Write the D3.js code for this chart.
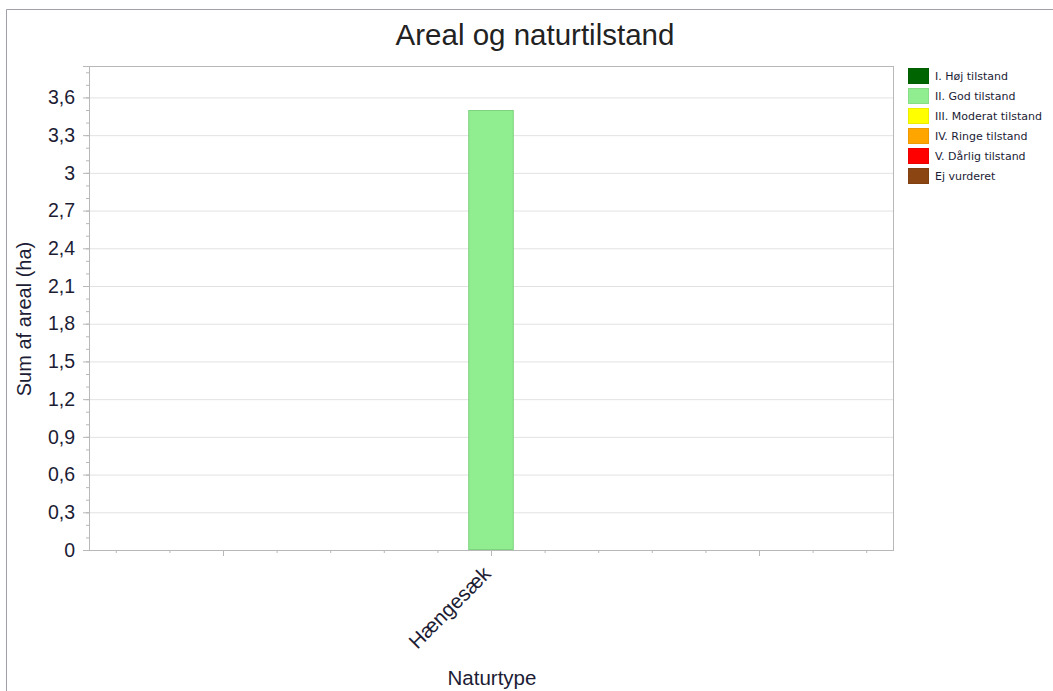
<!DOCTYPE html>
<html><head><meta charset="utf-8">
<script src="https://cdn.jsdelivr.net/npm/d3@7"></script>
<style>body{margin:0;background:#fff;} svg{display:block;}</style>
</head><body>
<script>
const categories = ["Hængesæk"];
const seriesNames = ["I. Høj tilstand","II. God tilstand","III. Moderat tilstand","IV. Ringe tilstand","V. Dårlig tilstand","Ej vurderet"];
const seriesColors = ["#006400","#90EE90","#FFFF00","#FFA500","#FF0000","#8B4513"];
const seriesValues = [[0],[3.5],[0],[0],[0],[0]];
const yTicks = [0,0.3,0.6,0.9,1.2,1.5,1.8,2.1,2.4,2.7,3,3.3,3.6];
const title = "Areal og naturtilstand";
const yLabel = "Sum af areal (ha)";
const xLabel = "Naturtype";

const W = 1053, H = 691;
const m = {left: 89, top: 66, right: 1053-893, bottom: 691-550};
const svg = d3.select("body").append("svg").attr("width", W).attr("height", H);
const FONT = "Liberation Sans, Arial, sans-serif";
const TXT = "#1c1c35";

// outer frame (top/left visible)
svg.append("path").attr("d", `M6.5,${H}V9.5H${W}`).attr("fill","none").attr("stroke","#a0a0a8").attr("stroke-width",1);

const pw = W - m.left - m.right, ph = H - m.top - m.bottom;
const g = svg.append("g").attr("transform", `translate(${m.left},${m.top})`);

const y = d3.scaleLinear().domain([0, 3.85]).range([ph, 0]);
const x0 = d3.scaleBand().domain(categories).range([0, pw]);
const xu = d3.scaleLinear().domain([0, 30]).range([0, pw]);

// gridlines
g.selectAll(".grid").data(yTicks.filter(d => d > 0)).join("line")
  .attr("x1", 0).attr("x2", pw).attr("y1", d => y(d) + 0.5).attr("y2", d => y(d) + 0.5)
  .attr("stroke", "#e2e2e2");

// bars
const nonZero = seriesNames.map((n,i)=>({n,i})).filter(s => seriesValues[s.i].some(v => v > 0));
const inner = d3.scaleBand().domain(nonZero.map(s => s.n)).range([0, xu(1.7)]);
categories.forEach((c, ci) => {
  const cx = x0(c) + x0.bandwidth()/2;
  g.selectAll(null).data(nonZero).join("rect")
    .attr("x", s => cx - xu(1.7)/2 + inner(s.n) + 0.5)
    .attr("y", s => y(seriesValues[s.i][ci]) + 0.5)
    .attr("width", inner.bandwidth() - 1)
    .attr("height", s => y(0) - y(seriesValues[s.i][ci]) - 1)
    .attr("fill", s => seriesColors[s.i])
    .attr("stroke", s => d3.color(seriesColors[s.i]).darker(0.35))
    .attr("stroke-width", 1);
});

// frame
g.append("rect").attr("x", 0.5).attr("y", 0.5).attr("width", pw).attr("height", ph)
  .attr("fill", "none").attr("stroke", "#b8b8b8");

// y minor ticks
const minor = d3.range(0, 3.85, 0.1).map(v => Math.round(v*10)/10);
g.selectAll(".ymin").data(minor).join("line")
  .attr("x1", -3).attr("x2", 0).attr("y1", d => y(d)+0.5).attr("y2", d => y(d)+0.5)
  .attr("stroke", "#b8b8b8");
// y major
const yAxis = g.append("g").call(d3.axisLeft(y).tickValues(yTicks).tickSize(6).tickPadding(8)
  .tickFormat(d => d3.format(".1~f")(d).replace(".", ",")));
yAxis.select(".domain").attr("stroke", "#b8b8b8");
yAxis.selectAll(".tick line").attr("stroke", "#b8b8b8");
yAxis.selectAll("text").attr("font-family", FONT).attr("font-size", 19.5).attr("fill", TXT);

// x ticks
const xMinor = d3.range(1, 30, 2);
g.selectAll(".xmin").data(xMinor).join("line")
  .attr("x1", d => xu(d)+0.5).attr("x2", d => xu(d)+0.5)
  .attr("y1", ph).attr("y2", d => ph + ((d - 5) % 10 === 0 ? 6 : 3))
  .attr("stroke", "#b8b8b8");

// category labels
categories.forEach(c => {
  const cx = x0(c) + x0.bandwidth()/2;
  g.append("text").attr("transform", `translate(${cx - 4},${ph + 20}) rotate(-45)`)
    .attr("text-anchor", "end").attr("dy", "0.35em")
    .attr("font-family", FONT).attr("font-size", 20.5).attr("fill", TXT)
    .text(c);
});

// titles
svg.append("text").attr("x", 535).attr("y", 45).attr("text-anchor", "middle")
  .attr("font-family", FONT).attr("font-size", 29.5).attr("fill", "#222")
  .text(title);
svg.append("text").attr("transform", `translate(31,319) rotate(-90)`).attr("text-anchor", "middle")
  .attr("font-family", FONT).attr("font-size", 20).attr("fill", TXT)
  .text(yLabel);
svg.append("text").attr("x", m.left + pw/2 + 1).attr("y", 685).attr("text-anchor", "middle")
  .attr("font-family", FONT).attr("font-size", 20.5).attr("fill", TXT)
  .text(xLabel);

// legend
const lg = svg.append("g").attr("transform", "translate(908,68)");
const li = lg.selectAll("g").data(seriesNames).join("g").attr("transform", (d,i) => `translate(0,${i*20})`);
li.append("rect").attr("x", 0.5).attr("y", 0.5).attr("width", 20).attr("height", 15)
  .attr("fill", (d,i) => seriesColors[i]).attr("stroke", (d,i) => d3.color(seriesColors[i]).darker(0.2));
li.append("text").attr("x", 27).attr("y", 8).attr("dy", "0.35em")
  .attr("font-family", "DejaVu Sans, sans-serif").attr("font-size", 11).attr("fill", "#1c1c35")
  .text(d => d);
</script>
</body></html>
